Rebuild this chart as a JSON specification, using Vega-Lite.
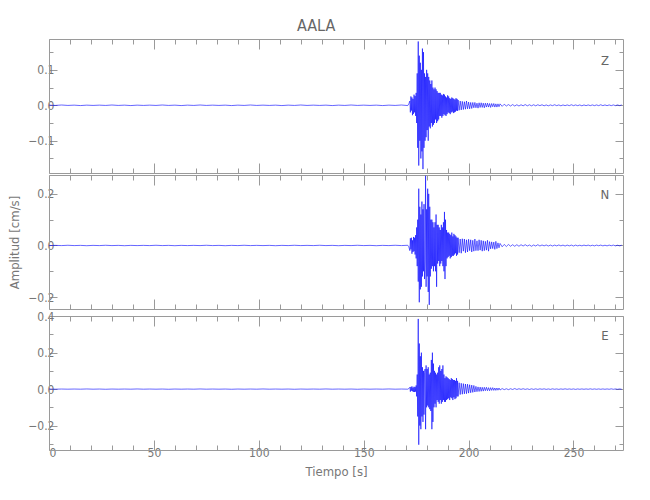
{
"$schema":"https://vega.github.io/schema/vega-lite/v6.json",
"autosize":{"type":"pad"},
"padding":{"left":8,"top":17,"right":5,"bottom":5},
"title":{"text":"AALA","font":"DejaVu Sans Condensed, Liberation Sans Narrow, sans-serif","fontSize":16,"fontWeight":"normal","color":"#666666","anchor":"middle","offset":5},
"config":{"view":{"stroke":null},"concat":{"spacing":0},
 "axis":{"domainColor":"#9a9a9a","tickColor":"#9a9a9a","labelColor":"#777777","labelFont":"DejaVu Sans Condensed, Liberation Sans Narrow, sans-serif","labelFontSize":12,"titleFont":"DejaVu Sans Condensed, Liberation Sans Narrow, sans-serif","titleFontSize":13,"titleFontWeight":"normal","titleColor":"#777777","grid":false,"domainWidth":1,"tickWidth":1}},
"spacing":0,
"data":{"values":[
{"t":0,"z":0.0004,"n":-0.0004,"e":0.0004},{"t":3,"z":-0.0004,"n":0.0004,"e":-0.0004},{"t":6,"z":0.0008,"n":-0.0004,"e":0.0004},{"t":9,"z":-0.0004,"n":0.0008,"e":-0.0004},{"t":12,"z":0.0004,"n":-0.0004,"e":0.0004},{"t":15,"z":-0.0008,"n":0.0004,"e":-0.0004},{"t":18,"z":0.0004,"n":-0.0008,"e":0.0008},{"t":21,"z":-0.0004,"n":0.0004,"e":-0.0004},{"t":24,"z":0.0004,"n":-0.0004,"e":0.0004},{"t":27,"z":-0.0004,"n":0.0008,"e":-0.0008},{"t":30,"z":0.0008,"n":-0.0004,"e":0.0004},{"t":33,"z":-0.0004,"n":0.0004,"e":-0.0004},{"t":36,"z":0.0004,"n":-0.0008,"e":0.0004},{"t":39,"z":-0.0008,"n":0.0004,"e":-0.0004},{"t":42,"z":0.0004,"n":-0.0004,"e":0.0008},{"t":45,"z":-0.0004,"n":0.0004,"e":-0.0004},{"t":48,"z":0.0004,"n":-0.0004,"e":0.0004},{"t":51,"z":-0.0004,"n":0.0008,"e":-0.0004},{"t":54,"z":0.0008,"n":-0.0004,"e":0.0004},{"t":57,"z":-0.0004,"n":0.0004,"e":-0.0008},{"t":60,"z":0.0004,"n":-0.0008,"e":0.0004},{"t":63,"z":-0.0008,"n":0.0004,"e":-0.0004},{"t":66,"z":0.0004,"n":-0.0004,"e":0.0004},{"t":69,"z":-0.0004,"n":0.0004,"e":-0.0004},{"t":72,"z":0.0008,"n":-0.0004,"e":0.0008},{"t":75,"z":-0.0004,"n":0.0008,"e":-0.0004},{"t":78,"z":0.0004,"n":-0.0004,"e":0.0004},{"t":81,"z":-0.0004,"n":0.0004,"e":-0.0004},{"t":84,"z":0.0004,"n":-0.0008,"e":0.0004},{"t":87,"z":-0.0008,"n":0.0004,"e":-0.0008},{"t":90,"z":0.0004,"n":-0.0004,"e":0.0004},{"t":93,"z":-0.0004,"n":0.0008,"e":-0.0004},{"t":96,"z":0.0008,"n":-0.0004,"e":0.0004},{"t":99,"z":-0.0004,"n":0.0004,"e":-0.0004},{"t":102,"z":0.0004,"n":-0.0004,"e":0.0008},{"t":105,"z":-0.0004,"n":0.0004,"e":-0.0004},{"t":108,"z":0.0004,"n":-0.0008,"e":0.0004},{"t":111,"z":-0.0008,"n":0.0004,"e":-0.0004},{"t":114,"z":0.0004,"n":-0.0004,"e":0.0004},{"t":117,"z":-0.0004,"n":0.0008,"e":-0.0008},{"t":120,"z":0.0008,"n":-0.0004,"e":0.0004},{"t":123,"z":-0.0004,"n":0.0004,"e":-0.0004},{"t":126,"z":0.0004,"n":-0.0004,"e":0.0004},{"t":129,"z":-0.0004,"n":0.0008,"e":-0.0004},{"t":132,"z":0.0004,"n":-0.0004,"e":0.0008},{"t":135,"z":-0.0008,"n":0.0004,"e":-0.0004},{"t":138,"z":0.0004,"n":-0.0008,"e":0.0004},{"t":141,"z":-0.0004,"n":0.0004,"e":-0.0004},{"t":144,"z":0.0008,"n":-0.0004,"e":0.0004},{"t":147,"z":-0.0004,"n":0.0008,"e":-0.0008},{"t":150,"z":0.0004,"n":-0.0004,"e":0.0004},{"t":153,"z":-0.0004,"n":0.0004,"e":-0.0004},{"t":156,"z":0.0004,"n":-0.0008,"e":0.0004},{"t":159,"z":-0.0008,"n":0.0004,"e":-0.0004},{"t":162,"z":0.0004,"n":-0.0004,"e":0.0008},{"t":165,"z":-0.0004,"n":0.0008,"e":-0.0004},{"t":168,"z":0.0008,"n":-0.0004,"e":0.0004},{"t":171,"z":-0.0008,"n":0.0008,"e":-0.0004},{"t":171.5,"z":0.004,"n":-0.005,"e":0.003},
{"t":172,"z":0.012,"n":-0.02,"e":0.01},{"t":172.25,"z":-0.02,"n":0.028,"e":-0.014},{"t":172.5,"z":0.025,"n":-0.015,"e":0.012},{"t":172.75,"z":-0.015,"n":0.03,"e":-0.009},{"t":173,"z":0.022,"n":-0.032,"e":0.015},{"t":173.25,"z":-0.028,"n":0.02,"e":-0.012},{"t":173.5,"z":0.018,"n":-0.025,"e":0.008},{"t":173.75,"z":-0.024,"n":0.033,"e":-0.015},{"t":174,"z":0.03,"n":-0.022,"e":0.013},{"t":174.25,"z":-0.02,"n":0.03,"e":-0.016},{"t":174.5,"z":0.026,"n":-0.035,"e":0.011},{"t":174.75,"z":-0.03,"n":0.04,"e":-0.014},{"t":175,"z":0.035,"n":-0.05,"e":0.02},{"t":175.25,"z":-0.05,"n":0.07,"e":-0.04},{"t":175.5,"z":0.09,"n":-0.08,"e":0.08},{"t":175.75,"z":-0.12,"n":0.1,"e":-0.15},{"t":176,"z":0.18,"n":-0.14,"e":0.385},{"t":176.25,"z":-0.17,"n":0.22,"e":-0.305},{"t":176.5,"z":0.14,"n":-0.22,"e":0.25},{"t":176.75,"z":-0.1,"n":0.15,"e":-0.2},{"t":177,"z":0.12,"n":-0.17,"e":0.18},{"t":177.25,"z":-0.15,"n":0.12,"e":-0.22},{"t":177.5,"z":0.1,"n":-0.16,"e":0.2},{"t":177.75,"z":-0.13,"n":0.17,"e":-0.15},{"t":178,"z":0.16,"n":-0.12,"e":0.12},{"t":178.25,"z":-0.18,"n":0.14,"e":-0.18},{"t":178.5,"z":0.15,"n":-0.1,"e":0.1},{"t":178.75,"z":-0.12,"n":0.16,"e":-0.14},{"t":179,"z":0.09,"n":-0.13,"e":0.09},{"t":179.25,"z":-0.1,"n":-0.06,"e":0.11},{"t":179.5,"z":0.08,"n":0.27,"e":-0.22},{"t":179.75,"z":-0.09,"n":-0.16,"e":0.13},{"t":180,"z":0.1,"n":0.14,"e":-0.1},{"t":180.25,"z":-0.07,"n":-0.12,"e":0.11},{"t":180.5,"z":0.09,"n":0.22,"e":-0.09},{"t":180.75,"z":-0.1,"n":-0.18,"e":0.12},{"t":181,"z":0.08,"n":0.2,"e":-0.1},{"t":181.25,"z":-0.06,"n":-0.23,"e":0.08},{"t":181.5,"z":0.07,"n":0.15,"e":-0.11},{"t":181.75,"z":-0.065,"n":-0.12,"e":0.09},{"t":182,"z":0.06,"n":0.1,"e":-0.12},{"t":182.25,"z":-0.05,"n":-0.09,"e":0.16},{"t":182.5,"z":0.07,"n":0.1,"e":-0.22},{"t":182.75,"z":-0.06,"n":-0.08,"e":0.2},{"t":183,"z":0.05,"n":0.09,"e":-0.18},{"t":183.25,"z":-0.055,"n":-0.1,"e":0.14},{"t":183.5,"z":0.045,"n":0.07,"e":-0.1},{"t":183.75,"z":-0.05,"n":-0.08,"e":0.1},{"t":184,"z":0.05,"n":0.09,"e":-0.08},{"t":184.25,"z":-0.04,"n":-0.1,"e":0.09},{"t":184.5,"z":0.045,"n":0.12,"e":-0.1},{"t":184.75,"z":-0.05,"n":-0.16,"e":0.08},{"t":185,"z":0.04,"n":0.08,"e":-0.06},{"t":185.25,"z":-0.045,"n":-0.07,"e":0.09},{"t":185.5,"z":0.035,"n":0.08,"e":-0.07},{"t":185.75,"z":-0.04,"n":-0.06,"e":0.12},{"t":186,"z":0.035,"n":0.07,"e":-0.08},{"t":186.25,"z":-0.03,"n":-0.08,"e":0.13},{"t":186.5,"z":0.035,"n":0.06,"e":-0.06},{"t":186.75,"z":-0.03,"n":-0.07,"e":0.1},{"t":187,"z":0.03,"n":0.08,"e":-0.08},{"t":187.25,"z":-0.035,"n":-0.06,"e":0.11},{"t":187.5,"z":0.028,"n":0.07,"e":-0.07},{"t":187.75,"z":-0.03,"n":-0.08,"e":0.13},{"t":188,"z":0.032,"n":0.09,"e":-0.06},{"t":188.25,"z":-0.025,"n":-0.1,"e":0.08},{"t":188.5,"z":0.03,"n":0.13,"e":-0.07},{"t":188.75,"z":-0.028,"n":-0.13,"e":0.06},{"t":189,"z":0.025,"n":0.1,"e":-0.07},{"t":189.25,"z":-0.03,"n":-0.08,"e":0.07},{"t":189.5,"z":0.022,"n":0.06,"e":-0.06},{"t":189.75,"z":-0.025,"n":-0.05,"e":0.065},{"t":190,"z":0.028,"n":0.05,"e":-0.055},{"t":190.25,"z":-0.02,"n":-0.045,"e":0.06},{"t":190.5,"z":0.025,"n":0.05,"e":-0.05},{"t":190.75,"z":-0.022,"n":-0.04,"e":0.055},{"t":191,"z":0.02,"n":0.045,"e":-0.06},{"t":191.25,"z":-0.025,"n":-0.05,"e":0.05},{"t":191.5,"z":0.018,"n":0.04,"e":-0.045},{"t":191.75,"z":-0.02,"n":-0.045,"e":0.06},{"t":192,"z":0.022,"n":0.05,"e":-0.05},{"t":192.25,"z":-0.018,"n":-0.04,"e":0.055},{"t":192.5,"z":0.02,"n":0.035,"e":-0.06},{"t":192.75,"z":-0.022,"n":-0.04,"e":0.05},{"t":193,"z":0.018,"n":0.045,"e":-0.045},{"t":193.25,"z":-0.02,"n":-0.035,"e":0.05},{"t":193.5,"z":0.016,"n":0.04,"e":-0.055},{"t":193.75,"z":-0.018,"n":-0.03,"e":0.045},{"t":194,"z":0.02,"n":0.035,"e":-0.05},{"t":194.25,"z":-0.015,"n":-0.04,"e":0.06},{"t":194.5,"z":0.018,"n":0.03,"e":-0.04},{"t":194.75,"z":-0.016,"n":-0.035,"e":0.045},{"t":195,"z":0.015,"n":0.03,"e":-0.04},
{"t":195.5,"z":-0.014,"n":-0.028,"e":0.035},{"t":196,"z":0.012,"n":0.025,"e":-0.03},{"t":196.5,"z":-0.013,"n":-0.03,"e":0.032},{"t":197,"z":0.011,"n":0.026,"e":-0.028},{"t":197.5,"z":-0.012,"n":-0.022,"e":0.03},{"t":198,"z":0.01,"n":0.025,"e":-0.026},{"t":198.5,"z":-0.011,"n":-0.028,"e":0.028},{"t":199,"z":0.012,"n":0.022,"e":-0.025},{"t":199.5,"z":-0.01,"n":-0.025,"e":0.027},{"t":200,"z":0.009,"n":0.024,"e":-0.022},{"t":200.5,"z":-0.01,"n":-0.02,"e":0.024},{"t":201,"z":0.008,"n":0.022,"e":-0.02},{"t":201.5,"z":-0.009,"n":-0.025,"e":0.022},{"t":202,"z":0.008,"n":0.02,"e":-0.018},{"t":202.5,"z":-0.007,"n":-0.022,"e":0.02},{"t":203,"z":0.008,"n":0.025,"e":-0.016},{"t":203.5,"z":-0.007,"n":-0.02,"e":0.015},{"t":204,"z":0.006,"n":0.018,"e":-0.014},{"t":204.5,"z":-0.008,"n":-0.02,"e":0.012},{"t":205,"z":0.007,"n":0.022,"e":-0.013},{"t":205.5,"z":-0.006,"n":-0.018,"e":0.011},{"t":206,"z":0.007,"n":0.02,"e":-0.012},{"t":206.5,"z":-0.006,"n":-0.022,"e":0.01},{"t":207,"z":0.006,"n":0.018,"e":-0.011},{"t":207.5,"z":-0.007,"n":-0.02,"e":0.01},{"t":208,"z":0.006,"n":0.016,"e":-0.009},{"t":208.5,"z":-0.005,"n":-0.018,"e":0.01},{"t":209,"z":0.006,"n":0.02,"e":-0.009},{"t":209.5,"z":-0.005,"n":-0.022,"e":0.008},{"t":210,"z":0.005,"n":0.015,"e":-0.009},{"t":210.5,"z":-0.006,"n":-0.013,"e":0.008},{"t":211,"z":0.005,"n":0.014,"e":-0.007},{"t":211.5,"z":-0.004,"n":-0.012,"e":0.008},{"t":212,"z":0.005,"n":0.013,"e":-0.007},{"t":212.5,"z":-0.005,"n":-0.015,"e":0.006},{"t":213,"z":0.004,"n":0.016,"e":-0.007},{"t":213.5,"z":-0.005,"n":-0.012,"e":0.006},{"t":214,"z":0.004,"n":0.01,"e":-0.006},{"t":214.5,"z":-0.004,"n":-0.009,"e":0.006},{"t":215,"z":0.004,"n":0.008,"e":-0.005},
{"t":216,"z":-0.003,"n":-0.005,"e":0.003},{"t":217,"z":0.003,"n":0.004,"e":-0.003},{"t":218,"z":-0.002,"n":-0.004,"e":0.002},{"t":219,"z":0.002,"n":0.004,"e":-0.003},{"t":220,"z":-0.002,"n":-0.003,"e":0.002},{"t":221,"z":0.002,"n":0.003,"e":-0.002},{"t":222,"z":-0.002,"n":-0.003,"e":0.003},{"t":223,"z":0.0015,"n":0.003,"e":-0.002},{"t":224,"z":-0.002,"n":-0.003,"e":0.002},{"t":225,"z":0.0015,"n":0.003,"e":-0.0015},{"t":226,"z":-0.0015,"n":-0.002,"e":0.002},{"t":227,"z":0.002,"n":0.003,"e":-0.0015},{"t":228,"z":-0.0015,"n":-0.002,"e":0.0015},{"t":229,"z":0.0015,"n":0.002,"e":-0.002},{"t":230,"z":-0.0015,"n":-0.003,"e":0.0015},{"t":231,"z":0.0015,"n":0.002,"e":-0.0015},{"t":232,"z":-0.0015,"n":-0.002,"e":0.0015},{"t":233,"z":0.0015,"n":0.003,"e":-0.0015},{"t":234,"z":-0.001,"n":-0.002,"e":0.0015},{"t":235,"z":0.0015,"n":0.002,"e":-0.001},{"t":236,"z":-0.0015,"n":-0.0015,"e":0.0015},{"t":237,"z":0.001,"n":0.002,"e":-0.0015},{"t":238,"z":-0.0015,"n":-0.002,"e":0.001},{"t":239,"z":0.001,"n":0.0015,"e":-0.0015},{"t":240,"z":-0.001,"n":-0.002,"e":0.0015},{"t":241,"z":0.0015,"n":0.0015,"e":-0.001},{"t":242,"z":-0.001,"n":-0.0015,"e":0.001},{"t":243,"z":0.001,"n":0.002,"e":-0.0015},{"t":244,"z":-0.0015,"n":-0.0015,"e":0.001},{"t":245,"z":0.001,"n":0.0015,"e":-0.001},{"t":246,"z":-0.001,"n":-0.002,"e":0.0015},{"t":247,"z":0.001,"n":0.0015,"e":-0.001},{"t":248,"z":-0.001,"n":-0.0015,"e":0.001},{"t":249,"z":0.0015,"n":0.0015,"e":-0.001},{"t":250,"z":-0.001,"n":-0.002,"e":0.001},{"t":251,"z":0.001,"n":0.0015,"e":-0.0015},{"t":252,"z":-0.001,"n":-0.0015,"e":0.001},{"t":253,"z":0.001,"n":0.001,"e":-0.001},{"t":254,"z":-0.0015,"n":-0.0015,"e":0.001},{"t":255,"z":0.001,"n":0.0015,"e":-0.001},{"t":256,"z":-0.001,"n":-0.001,"e":0.001},{"t":257,"z":0.001,"n":0.0015,"e":-0.001},{"t":258,"z":-0.001,"n":-0.0015,"e":0.0015},{"t":259,"z":0.001,"n":0.001,"e":-0.001},{"t":260,"z":-0.001,"n":-0.0015,"e":0.001},{"t":261,"z":0.001,"n":0.0015,"e":-0.001},{"t":262,"z":-0.001,"n":-0.001,"e":0.001},{"t":263,"z":0.0015,"n":0.0015,"e":-0.001},{"t":264,"z":-0.001,"n":-0.0015,"e":0.001},{"t":265,"z":0.001,"n":0.001,"e":-0.001},{"t":266,"z":-0.001,"n":-0.0015,"e":0.001},{"t":267,"z":0.001,"n":0.0015,"e":-0.001},{"t":268,"z":-0.001,"n":-0.001,"e":0.0015},{"t":269,"z":0.001,"n":0.0015,"e":-0.001},{"t":270,"z":-0.001,"n":-0.0015,"e":0.001},{"t":271,"z":0.001,"n":0.001,"e":-0.001},{"t":272,"z":-0.001,"n":-0.0015,"e":0.001},{"t":273,"z":0.001,"n":0.001,"e":-0.001}
]},
"vconcat":[
{"width":574,"height":134,
 "layer":[
  {"mark":{"type":"line","color":"#0000ff","strokeWidth":0.6,"clip":true},
   "encoding":{
    "x":{"field":"t","type":"quantitative","scale":{"domain":[0,273.6],"nice":false,"zero":false},
     "axis":{"orient":"bottom","title":null,"labels":false,"values":[0,10,20,30,40,50,60,70,80,90,100,110,120,130,140,150,160,170,180,190,200,210,220,230,240,250,260,270],"tickSize":{"condition":{"test":"datum.value % 50 === 0","value":-10},"value":-5}}},
    "y":{"field":"z","type":"quantitative","scale":{"domain":[-0.191,0.187],"nice":false,"zero":false},
     "axis":{"orient":"left","title":null,"format":".1f","values":[-0.15,-0.1,-0.05,0,0.05,0.1,0.15],"labelExpr":"abs(datum.value*10-round(datum.value*10))<0.001 ? datum.label : ''","labelPadding":3,"tickSize":{"condition":{"test":"abs(datum.value*10-round(datum.value*10))<0.001","value":-8},"value":-4}}}
   }},
  {"data":{"values":[{"comp":"Z"}]},
   "mark":{"type":"text","font":"DejaVu Sans Condensed, Liberation Sans Narrow, sans-serif","fontSize":13,"color":"#666666","align":"center","baseline":"middle"},
   "encoding":{
    "x":{"datum":265,"type":"quantitative","axis":{"orient":"top","title":null,"labels":false,"values":[0,10,20,30,40,50,60,70,80,90,100,110,120,130,140,150,160,170,180,190,200,210,220,230,240,250,260,270],"tickSize":{"condition":{"test":"datum.value % 50 === 0","value":-10},"value":-5}}},
    "y":{"datum":0.125,"type":"quantitative","axis":{"orient":"right","title":null,"labels":false,"values":[-0.15,-0.1,-0.05,0,0.05,0.1,0.15],"tickSize":{"condition":{"test":"abs(datum.value*10-round(datum.value*10))<0.001","value":-8},"value":-4}}},
    "text":{"field":"comp"}
   }}
 ],
 "resolve":{"axis":{"x":"independent","y":"independent"}}
},
{"width":574,"height":134,
 "layer":[
  {"mark":{"type":"line","color":"#0000ff","strokeWidth":0.6,"clip":true},
   "encoding":{
    "x":{"field":"t","type":"quantitative","scale":{"domain":[0,273.6],"nice":false,"zero":false},
     "axis":{"orient":"bottom","title":null,"labels":false,"values":[0,10,20,30,40,50,60,70,80,90,100,110,120,130,140,150,160,170,180,190,200,210,220,230,240,250,260,270],"tickSize":{"condition":{"test":"datum.value % 50 === 0","value":-10},"value":-5}}},
    "y":{"field":"n","type":"quantitative","scale":{"domain":[-0.246,0.273],"nice":false,"zero":false},
     "axis":{"orient":"left","title":"Amplitud  [cm/s]","titlePadding":6,"format":".1f","values":[-0.2,-0.1,0,0.1,0.2],"labelExpr":"abs(datum.value*5-round(datum.value*5))<0.001 ? datum.label : ''","labelPadding":3,"tickSize":{"condition":{"test":"abs(datum.value*5-round(datum.value*5))<0.001","value":-8},"value":-4}}}
   }},
  {"data":{"values":[{"comp":"N"}]},
   "mark":{"type":"text","font":"DejaVu Sans Condensed, Liberation Sans Narrow, sans-serif","fontSize":13,"color":"#666666","align":"center","baseline":"middle"},
   "encoding":{
    "x":{"datum":265,"type":"quantitative","axis":{"orient":"top","title":null,"labels":false,"values":[0,10,20,30,40,50,60,70,80,90,100,110,120,130,140,150,160,170,180,190,200,210,220,230,240,250,260,270],"tickSize":{"condition":{"test":"datum.value % 50 === 0","value":-10},"value":-5}}},
    "y":{"datum":0.196,"type":"quantitative","axis":{"orient":"right","title":null,"labels":false,"values":[-0.2,-0.1,0,0.1,0.2],"tickSize":{"condition":{"test":"abs(datum.value*5-round(datum.value*5))<0.001","value":-8},"value":-4}}},
    "text":{"field":"comp"}
   }}
 ],
 "resolve":{"axis":{"x":"independent","y":"independent"}}
},
{"width":574,"height":134,
 "layer":[
  {"mark":{"type":"line","color":"#0000ff","strokeWidth":0.6,"clip":true},
   "encoding":{
    "x":{"field":"t","type":"quantitative","scale":{"domain":[0,273.6],"nice":false,"zero":false},
     "axis":{"orient":"bottom","title":"Tiempo  [s]","titlePadding":7,"labelPadding":7,"values":[0,10,20,30,40,50,60,70,80,90,100,110,120,130,140,150,160,170,180,190,200,210,220,230,240,250,260,270],"labelExpr":"datum.value % 50 === 0 ? datum.label : ''","tickSize":{"condition":{"test":"datum.value % 50 === 0","value":-10},"value":-5}}},
    "y":{"field":"e","type":"quantitative","scale":{"domain":[-0.334,0.401],"nice":false,"zero":false},
     "axis":{"orient":"left","title":null,"format":".1f","values":[-0.3,-0.2,-0.1,0,0.1,0.2,0.3,0.4],"labelExpr":"abs(datum.value*5-round(datum.value*5))<0.001 ? datum.label : ''","labelPadding":3,"tickSize":{"condition":{"test":"abs(datum.value*5-round(datum.value*5))<0.001","value":-8},"value":-4}}}
   }},
  {"data":{"values":[{"comp":"E"}]},
   "mark":{"type":"text","font":"DejaVu Sans Condensed, Liberation Sans Narrow, sans-serif","fontSize":13,"color":"#666666","align":"center","baseline":"middle"},
   "encoding":{
    "x":{"datum":265,"type":"quantitative","axis":{"orient":"top","title":null,"labels":false,"values":[0,10,20,30,40,50,60,70,80,90,100,110,120,130,140,150,160,170,180,190,200,210,220,230,240,250,260,270],"tickSize":{"condition":{"test":"datum.value % 50 === 0","value":-10},"value":-5}}},
    "y":{"datum":0.29,"type":"quantitative","axis":{"orient":"right","title":null,"labels":false,"values":[-0.3,-0.2,-0.1,0,0.1,0.2,0.3,0.4],"tickSize":{"condition":{"test":"abs(datum.value*5-round(datum.value*5))<0.001","value":-8},"value":-4}}},
    "text":{"field":"comp"}
   }}
 ],
 "resolve":{"axis":{"x":"independent","y":"independent"}}
}
]
}
